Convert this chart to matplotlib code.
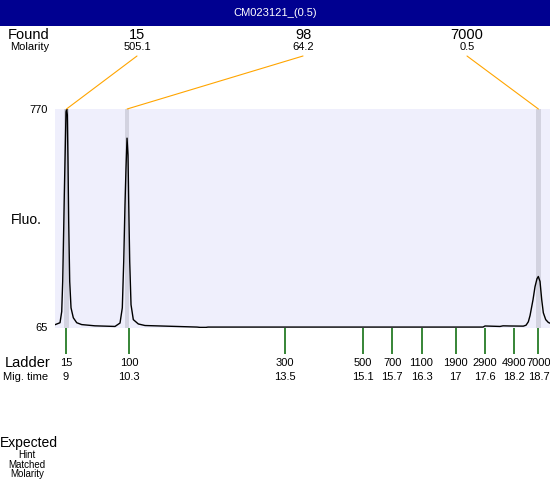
import matplotlib
matplotlib.use("Agg")
import matplotlib.pyplot as plt
from matplotlib.patches import Rectangle, ConnectionPatch
import matplotlib.transforms as mtrans

plt.rcParams["font.family"] = ["Liberation Sans", "DejaVu Sans"]

title = "CM023121_(0.5)"

# electropherogram trace: migration time (s) vs fluorescence
trace_time = [8.774, 8.877, 8.912, 8.932, 8.953, 8.965, 8.986, 9.0, 9.014, 9.027,
              9.041, 9.055, 9.076, 9.103, 9.15, 9.22, 9.322, 9.595, 10.006, 10.109,
              10.156, 10.185, 10.211, 10.232, 10.253, 10.273, 10.287, 10.308, 10.335, 10.382,
              10.485, 10.622, 11.69, 11.75, 11.875, 11.916, 17.563, 17.604, 17.912, 17.973,
              18.117, 18.39, 18.446, 18.493, 18.528, 18.589, 18.63, 18.671, 18.698, 18.733,
              18.768, 18.801, 18.85, 18.903, 18.938]
trace_fluo = [74.7, 81, 117, 214, 387, 493, 654, 761, 770, 751,
              600, 407, 214, 129, 97, 81, 75, 71, 69, 80,
              129, 278, 461, 580, 676, 622, 472, 278, 139, 91,
              77, 72, 67, 66, 66, 67, 67, 70.5, 69, 71,
              70.5, 70, 73, 84, 104, 155, 197, 223, 230, 214,
              155, 113, 91, 82, 79.5]

# found peaks
found_size = ["15", "98", "7000"]
found_molarity = ["505.1", "64.2", "0.5"]
found_time = [9.01, 10.255, 18.70]

# ladder
ladder_size = ["15", "100", "300", "500", "700", "1100", "1900", "2900", "4900", "7000"]
ladder_time = [9, 10.3, 13.5, 15.1, 15.7, 16.3, 17, 17.6, 18.2, 18.7]

W, H = 550, 480


def fx(x):
    return x / W


def fy(y):
    return 1 - y / H


fig = plt.figure(figsize=(5.5, 4.8), dpi=100)
fig.patch.set_facecolor("white")

# title bar
fig.patches.append(Rectangle((0, fy(26)), 1, 26 / H, transform=fig.transFigure,
                             facecolor="#000090", edgecolor="none"))
fig.text(0.5, fy(13), title, color="white", fontsize=8, ha="center", va="center")

ax = fig.add_axes([fx(55), fy(328), fx(495), 219 / H])
ax.set_facecolor("#EFEFFC")
ax.set_xlim(8.774, 18.938)
ax.set_ylim(64, 770)
for s in ax.spines.values():
    s.set_visible(False)
ax.set_xticks([])
ax.set_yticks([])

for t in found_time:
    ax.axvspan(t - 0.045, t + 0.045, color="#D3D3E0", lw=0)

ax.plot(trace_time, trace_fluo, color="black", lw=1.0)

fig.text(fx(48), fy(110), "770", fontsize=8, ha="right", va="center")
fig.text(fx(48), fy(328), "65", fontsize=8, ha="right", va="center")
fig.text(fx(11), fy(220), "Fluo.", fontsize=10, ha="left", va="center")

# found peak labels
fig.text(fx(8), fy(35), "Found", fontsize=10.5, ha="left", va="center")
fig.text(fx(10), fy(47), "Molarity", fontsize=8, ha="left", va="center")
label_x = [137, 303, 467]
for lx, sz, mol, t in zip(label_x, found_size, found_molarity, found_time):
    fig.text(fx(lx), fy(35), sz, fontsize=10.5, ha="center", va="center")
    fig.text(fx(lx), fy(47), mol, fontsize=8, ha="center", va="center")
    con = ConnectionPatch(xyA=(fx(lx), fy(56)), coordsA="figure fraction",
                          xyB=(t, 770), coordsB=ax.transData,
                          color="#FFA500", lw=0.8)
    fig.add_artist(con)

# ladder ticks and labels
trans = mtrans.blended_transform_factory(ax.transData, fig.transFigure)
ax.vlines(ladder_time, fy(328), fy(354), colors="#006400", lw=1.1,
          transform=trans, clip_on=False)
fig.text(fx(5), fy(363), "Ladder", fontsize=10.5, ha="left", va="center")
fig.text(fx(3), fy(377), "Mig. time", fontsize=8, ha="left", va="center")
for sz, t in zip(ladder_size, ladder_time):
    ax.text(t, fy(363), sz, fontsize=8, ha="center", va="center", transform=trans)
    ax.text(t, fy(377), f"{t:g}", fontsize=8, ha="center", va="center", transform=trans)

fig.text(fx(0), fy(443), "Expected", fontsize=10, ha="left", va="center")
fig.text(fx(27), fy(455), "Hint", fontsize=7, ha="center", va="center")
fig.text(fx(27), fy(465), "Matched", fontsize=7, ha="center", va="center")
fig.text(fx(27), fy(474), "Molarity", fontsize=7, ha="center", va="center")

fig.savefig("out.png", dpi=100)
